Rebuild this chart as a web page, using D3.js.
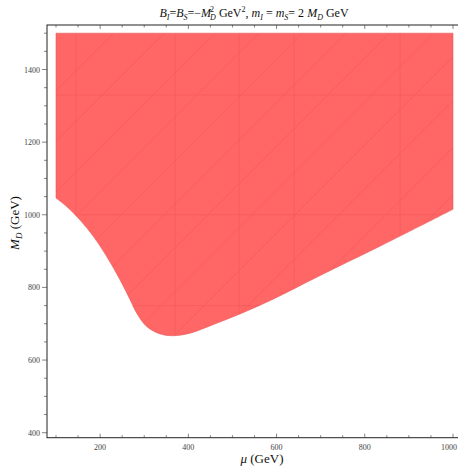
<!DOCTYPE html>
<html>
<head>
<meta charset="utf-8">
<script src="https://cdn.jsdelivr.net/npm/d3@7"></script>
<style>
  body { margin: 0; background: #fff; }
  text { font-family: "Liberation Serif", "DejaVu Serif", serif; }
</style>
</head>
<body>
<div id="chart"></div>
<script>
// lower boundary of the allowed region (mu in GeV, M_D in GeV)
const muVals = [100, 124, 154, 185, 215, 245, 268, 283, 306, 336, 366, 404, 457, 517, 593, 691, 842, 1000];
const mdLower = [1046, 1023, 986, 940, 885, 821, 766, 729, 692, 672, 667, 674, 698, 727, 768, 828, 918, 1015];
const mdUpper = 1500;

const xTickLabels = [200, 400, 600, 800, 1000];
const yTickLabels = [400, 600, 800, 1000, 1200, 1400];

// faint mesh artefacts of the region plot (intercepts of 45 degree lines, in GeV)
const meshOffsets = [-700, -560, -430, -300, -180, -60, 60, 180, 300, 420, 540, 680, 820];
const meshMu = [145, 370, 515, 640, 880];
const meshMd = [1000, 1330, 750];

const W = 458, H = 470;
const frame = {left: 47, right: 461, top: 25, bottom: 437.7};

const svg = d3.select("#chart").append("svg")
  .attr("width", W).attr("height", H);

// scales fitted to the frame
const x = d3.scaleLinear().domain([100, 1000]).range([56, 453]);
const y = d3.scaleLinear().domain([400, 1400]).range([432.7, 69.5]);

const data = muVals.map((m, i) => ({mu: m, lo: mdLower[i]}));

const defs = svg.append("defs");
defs.append("clipPath").attr("id", "frameClip")
  .append("rect")
  .attr("x", frame.left).attr("y", frame.top)
  .attr("width", frame.right - frame.left).attr("height", frame.bottom - frame.top);

const area = d3.area()
  .x(d => x(d.mu))
  .y0(d => y(d.lo))
  .y1(() => y(mdUpper))
  .curve(d3.curveCatmullRom);

defs.append("clipPath").attr("id", "regionClip")
  .append("path").datum(data).attr("d", area);

const g = svg.append("g").attr("clip-path", "url(#frameClip)");

g.append("path")
  .datum(data)
  .attr("d", area)
  .attr("fill", "#ff6666")
  .attr("stroke", "#e85a5a")
  .attr("stroke-width", 0.6);

// mesh artefacts, clipped to the region
const mg = g.append("g").attr("clip-path", "url(#regionClip)")
  .attr("stroke", "#d93b3b").attr("stroke-width", 0.6).attr("opacity", 0.3);
// 45 degree in pixels: slope in data units
const k = (x(200) - x(100)) / (y(400) - y(500));
meshOffsets.forEach(c => {
  mg.append("line")
    .attr("x1", x(100)).attr("y1", y(k * 100 + c + 400))
    .attr("x2", x(1000)).attr("y2", y(k * 1000 + c + 400));
});
meshMu.forEach(v => {
  mg.append("line").attr("x1", x(v)).attr("x2", x(v))
    .attr("y1", y(400)).attr("y2", y(mdUpper));
});
meshMd.forEach(v => {
  mg.append("line").attr("x1", x(100)).attr("x2", x(1000))
    .attr("y1", y(v)).attr("y2", y(v));
});

// frame
svg.append("rect")
  .attr("x", frame.left).attr("y", frame.top)
  .attr("width", frame.right - frame.left).attr("height", frame.bottom - frame.top)
  .attr("fill", "none").attr("stroke", "#222").attr("stroke-width", 1);

// x ticks (bottom and top, every 50)
const xTicks = d3.range(100, 1001, 50);
xTicks.forEach(v => {
  const major = v % 200 === 0;
  const len = major ? 4 : 2.5;
  svg.append("line")
    .attr("x1", x(v)).attr("x2", x(v))
    .attr("y1", frame.bottom).attr("y2", frame.bottom - len)
    .attr("stroke", "#333").attr("stroke-width", 0.6);
  svg.append("line")
    .attr("x1", x(v)).attr("x2", x(v))
    .attr("y1", frame.top).attr("y2", frame.top + len)
    .attr("stroke", "#333").attr("stroke-width", 0.6);
});
svg.selectAll(".xlab").data(xTickLabels).enter().append("text")
  .attr("x", d => d === 1000 ? W - 1 : x(d)).attr("y", frame.bottom + 12)
  .attr("text-anchor", d => d === 1000 ? "end" : "middle")
  .attr("font-size", 8).attr("fill", "#444")
  .text(d => d);

// y ticks (left, every 50)
const yTicks = d3.range(400, 1501, 50);
yTicks.forEach(v => {
  const major = v % 200 === 0;
  const len = major ? 5 : 3;
  svg.append("line")
    .attr("x1", frame.left - len).attr("x2", frame.left)
    .attr("y1", y(v)).attr("y2", y(v))
    .attr("stroke", "#333").attr("stroke-width", 0.6);
});
svg.selectAll(".ylab").data(yTickLabels).enter().append("text")
  .attr("x", frame.left - 7).attr("y", d => y(d) + 3)
  .attr("text-anchor", "end")
  .attr("font-size", 8).attr("fill", "#444")
  .text(d => d);

// axis labels
const xl = svg.append("text")
  .attr("x", 262).attr("y", 463)
  .attr("text-anchor", "middle").attr("font-size", 13).attr("fill", "#111");
xl.append("tspan").attr("font-style", "italic").text("μ");
xl.append("tspan").text(" (GeV)");

const yl = svg.append("text")
  .attr("transform", "translate(19,223) rotate(-90)")
  .attr("text-anchor", "middle").attr("font-size", 13).attr("fill", "#111");
yl.append("tspan").attr("font-style", "italic").text("M");
yl.append("tspan").attr("font-style", "italic").attr("font-size", 9).attr("dy", 3).text("D");
yl.append("tspan").attr("dy", -3).text(" (GeV)");

// title: pieces with relative baseline offsets (text, italic?, offset, dx)
const pieces = [
  ["B", "i", 0], ["I", "i", 2.5], ["=", "n", 0], ["B", "i", 0], ["S", "i", 2.5],
  ["=\u2212", "n", 0], ["M", "i", 0], ["2", "n", -5, -1], ["D", "i", 2.5, -4],
  [" GeV", "n", 0], ["2", "n", -5], [", ", "n", 0], ["m", "i", 0], ["I", "i", 2.5],
  [" = ", "n", 0], ["m", "i", 0], ["S", "i", 2.5], ["= 2 ", "n", 0], ["M", "i", 0],
  ["D", "i", 2.5], [" GeV", "n", 0]
];
const t = svg.append("text")
  .attr("x", 254).attr("y", 17)
  .attr("text-anchor", "middle").attr("font-size", 12).attr("fill", "#111");
let cur = 0;
pieces.forEach(p => {
  const s = t.append("tspan")
    .attr("dy", p[2] - cur)
    .attr("font-style", p[1] === "i" ? "italic" : "normal")
    .attr("font-size", p[2] !== 0 ? 8 : 12)
    .text(p[0]);
  cur = p[2];
  if (p[3]) s.attr("dx", p[3]);
});
</script>
</body>
</html>
